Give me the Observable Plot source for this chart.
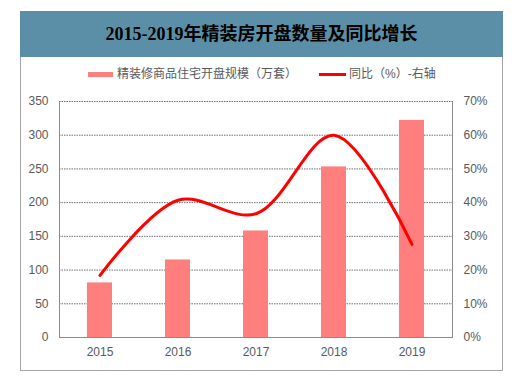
<!DOCTYPE html>
<html>
<head>
<meta charset="utf-8">
<script src="https://cdn.jsdelivr.net/npm/d3@7"></script>
<script src="https://cdn.jsdelivr.net/npm/@observablehq/plot@0.6"></script>
<style>
  html, body { margin: 0; padding: 0; background: #fff; }
  #wrap { position: relative; width: 524px; height: 378px; overflow: hidden; font-family: "Liberation Sans", "Noto Sans CJK SC", sans-serif; }
  #frame { position: absolute; left: 20px; top: 11px; width: 481px; height: 358px; border: 1px solid #a6a6a6; }
  #title { position: absolute; left: 20px; top: 11px; width: 483px; height: 46px; background: #5b8fa7; color: #000;
           font-family: "Liberation Serif", "Noto Sans CJK SC", serif; font-weight: bold; font-size: 18px;
           line-height: 46px; text-align: center; }
  .leg { position: absolute; top: 66px; font-size: 12px; color: #595959; font-family: "Liberation Sans", "Noto Sans CJK SC", sans-serif; line-height: 16px; white-space: nowrap; }
  .sw { position: absolute; }
  #chart { position: absolute; left: 0; top: 90px; width: 524px; height: 280px; }
  #chart svg { position: absolute; left: 0; top: 0; }
</style>
</head>
<body>
<div id="wrap">
  <div id="frame"></div>
  <div id="title">2015-2019年精装房开盘数量及同比增长</div>
  <div class="sw" style="left:88px;top:72px;width:25px;height:5px;background:#ff7f7f;"></div>
  <div class="leg" id="lg1" style="left:117px;"></div>
  <div class="sw" style="left:319px;top:73px;width:27px;height:3px;background:#ff0000;"></div>
  <div class="leg" id="lg2" style="left:349px;"></div>
  <div id="chart"></div>
</div>
<script>
const years = ["2015", "2016", "2017", "2018", "2019"];
const openings = [81, 115, 158, 253, 322];        // 万套
const yoy = [18.4, 40.7, 36.7, 60.0, 27.6];      // %
const leftTicks = [0, 50, 100, 150, 200, 250, 300, 350];
const rightTicks = [0, 10, 20, 30, 40, 50, 60, 70];
const seriesNames = ["精装修商品住宅开盘规模（万套）", "同比（%）-右轴"];

document.getElementById("lg1").textContent = seriesNames[0];
document.getElementById("lg2").textContent = seriesNames[1];

const ratio = 350 / 70;
const data = years.map((y, i) => ({year: y, v: openings[i], p: yoy[i]}));

const chart = Plot.plot({
  width: 524,
  height: 280,
  marginLeft: 59,
  marginRight: 72,
  marginTop: 11,
  marginBottom: 33,
  style: {fontFamily: "Liberation Sans, sans-serif", fontSize: "12px", color: "#595959", background: "transparent"},
  x: {domain: years, paddingInner: 0.68, paddingOuter: 0.34, label: null},
  y: {domain: [0, 350], label: null},
  marks: [
    Plot.gridY(leftTicks.filter(d => d > 0), {stroke: "#6e6e6e", strokeOpacity: 1, strokeDasharray: "1.5,1", strokeWidth: 1}),
    Plot.barY(data, {x: "year", y: "v", fill: "#ff7f7f"}),
    Plot.ruleY([0], {stroke: "#8c8c8c", strokeWidth: 1}),
    Plot.frame({stroke: "#8c8c8c", anchor: "left"}),
    Plot.frame({stroke: "#8c8c8c", anchor: "right"}),
    Plot.axisY({ticks: leftTicks, anchor: "left", tickSize: 0, tickPadding: 11, label: null, fill: "#595959"}),
    Plot.axisY({ticks: rightTicks.map(d => d * ratio), anchor: "right", tickSize: 0, tickPadding: 11, label: null,
                tickFormat: d => Math.round(d / ratio) + "%", fill: "#595959", textAnchor: "start"}),
    Plot.axisX({tickSize: 0, tickPadding: 10, label: null, fill: "#595959"}),
    Plot.line(data, {x: "year", y: d => d.p * ratio, stroke: "#ff0000", strokeWidth: 3, curve: "catmull-rom"})
  ]
});
document.getElementById("chart").appendChild(chart);
</script>
</body>
</html>
